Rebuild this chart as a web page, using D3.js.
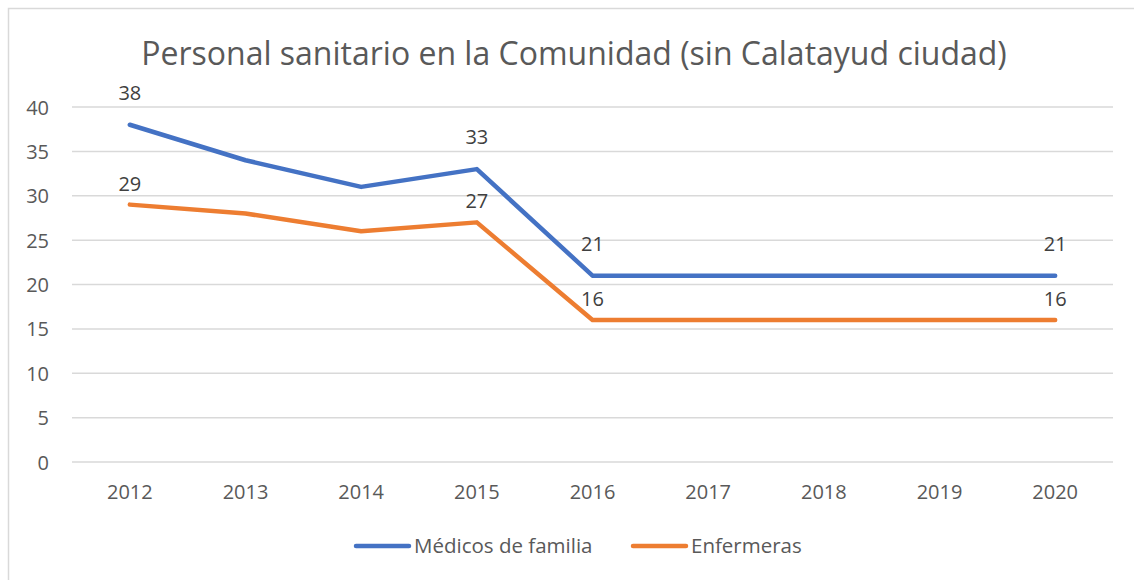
<!DOCTYPE html>
<html>
<head>
  <meta charset="utf-8">
  <title>Personal sanitario</title>
  <script src="https://cdnjs.cloudflare.com/ajax/libs/d3/7.8.5/d3.min.js"></script>
  <style>
    body { margin: 0; background: #fff; }
    text { font-family: "Open Sans", "Noto Sans", sans-serif; }
  </style>
</head>
<body>
<div id="vis"></div>
<script>
var anios = ["2012","2013","2014","2015","2016","2017","2018","2019","2020"];
var medicos = [38, 34, 31, 33, 21, 21, 21, 21, 21];
var enfermeras = [29, 28, 26, 27, 16, 16, 16, 16, 16];
var conEtiqueta = ["2012","2015","2016","2020"];
var ticksY = [0, 5, 10, 15, 20, 25, 30, 35, 40];

var series = [
  {nombre: "Médicos de familia", valores: medicos, color: "#4472C4", off: 25},
  {nombre: "Enfermeras", valores: enfermeras, color: "#ED7D31", off: 14}
];

var W = 1134, H = 580;
var svg = d3.select("#vis").append("svg")
  .attr("width", W).attr("height", H);

// marco del gráfico (se sale por la derecha y por abajo)
svg.append("rect")
  .attr("x", 8.5).attr("y", 8.5)
  .attr("width", W + 10).attr("height", H + 10)
  .attr("fill", "#fff").attr("stroke", "#d9d9d9").attr("stroke-width", 1.5);

svg.append("text")
  .attr("x", 574).attr("y", 65)
  .attr("text-anchor", "middle")
  .attr("fill", "#595959")
  .style("font-size", "32px")
  .text("Personal sanitario en la Comunidad (sin Calatayud ciudad)");

var x = d3.scaleBand().domain(anios).range([72, 1113]);
var y = d3.scaleLinear().domain([0, 40]).range([462, 107]);

// rejilla
svg.selectAll("line.grid").data(ticksY).enter().append("line")
  .attr("class", "grid")
  .attr("x1", 72).attr("x2", 1113)
  .attr("y1", function(d) { return y(d); })
  .attr("y2", function(d) { return y(d); })
  .attr("stroke", "#d9d9d9").attr("stroke-width", 1.5);

// eje Y
var ejeY = svg.append("g")
  .attr("transform", "translate(49,0)")
  .call(d3.axisLeft(y).tickValues(ticksY).tickSize(0).tickPadding(0));
ejeY.select(".domain").remove();
ejeY.selectAll("text")
  .attr("fill", "#595959").attr("dy", "0.35em")
  .style("font-size", "20px");

// eje X
var ejeX = svg.append("g")
  .attr("transform", "translate(0,484)")
  .call(d3.axisBottom(x).tickSize(0).tickPadding(0));
ejeX.select(".domain").remove();
ejeX.selectAll("text")
  .attr("fill", "#595959").attr("dy", "0.75em")
  .style("font-size", "20px");

var linea = d3.line()
  .x(function(d, i) { return x(anios[i]) + x.bandwidth() / 2; })
  .y(function(d) { return y(d); });

svg.selectAll("path.serie").data(series).enter().append("path")
  .attr("class", "serie")
  .attr("d", function(s) { return linea(s.valores); })
  .attr("fill", "none")
  .attr("stroke", function(s) { return s.color; })
  .attr("stroke-width", 4.5)
  .attr("stroke-linejoin", "round")
  .attr("stroke-linecap", "round");

// etiquetas de datos
series.forEach(function(s) {
  var pts = anios.map(function(a, i) { return {anio: a, v: s.valores[i]}; })
    .filter(function(p) { return conEtiqueta.indexOf(p.anio) >= 0; });
  svg.selectAll(null).data(pts).enter().append("text")
    .attr("x", function(p) { return x(p.anio) + x.bandwidth() / 2; })
    .attr("y", function(p) { return y(p.v) - s.off; })
    .attr("text-anchor", "middle")
    .attr("fill", "#404040")
    .style("font-size", "20px")
    .text(function(p) { return p.v; });
});

// leyenda
var leyX = [354, 631];
var ley = svg.selectAll("g.ley").data(series).enter().append("g")
  .attr("class", "ley")
  .attr("transform", function(s, i) { return "translate(" + leyX[i] + ",546)"; });
ley.append("line")
  .attr("x1", 2).attr("x2", 55)
  .attr("stroke", function(s) { return s.color; })
  .attr("stroke-width", 4.5).attr("stroke-linecap", "round");
ley.append("text")
  .attr("x", 60).attr("dy", "0.35em")
  .attr("fill", "#595959")
  .style("font-size", "20.5px")
  .text(function(s) { return s.nombre; });
</script>
</body>
</html>
